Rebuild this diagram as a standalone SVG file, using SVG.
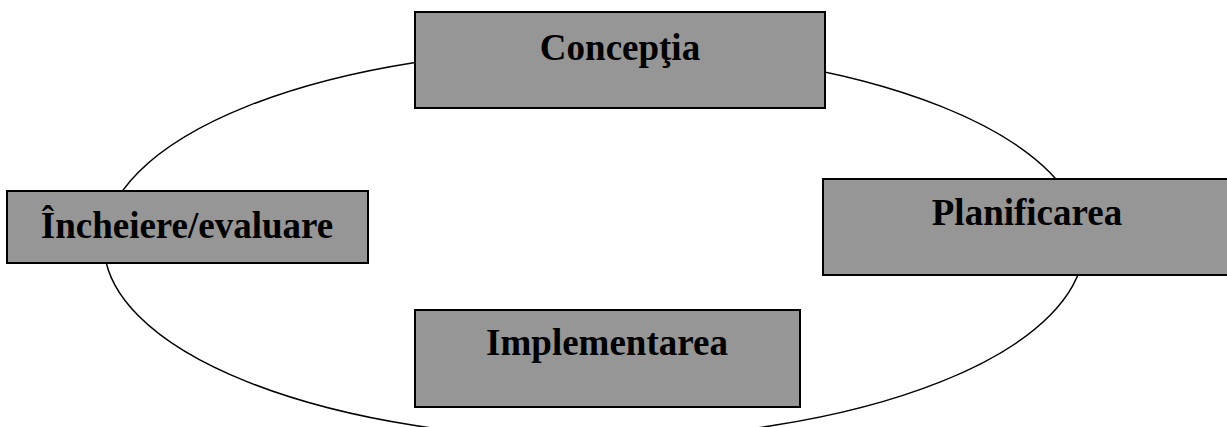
<svg xmlns="http://www.w3.org/2000/svg" width="1227" height="427" viewBox="0 0 1227 427">
<style>
.box{fill:#969696;stroke:#000;stroke-width:2}
.lbl{font-family:"Liberation Serif","Times New Roman",serif;font-weight:bold;font-size:37px;fill:#000;text-anchor:middle}
.conn{fill:none;stroke:#000;stroke-width:1.5}
</style>
<rect width="1227" height="427" fill="#fff"/>
<g id="connectors">
<ellipse class="conn" cx="594" cy="244" rx="490" ry="195"/>
</g>
<g id="conceptia">
<rect class="box" x="415" y="12" width="410" height="96"/>
<text class="lbl" x="620" y="60">Concepţia</text>
</g>
<g id="incheiere">
<rect class="box" x="7" y="191" width="361" height="72"/>
<text class="lbl" x="187" y="238">Încheiere/evaluare</text>
</g>
<g id="planificarea">
<rect class="box" x="823" y="179" width="410" height="96"/>
<text class="lbl" x="1027" y="225">Planificarea</text>
</g>
<g id="implementarea">
<rect class="box" x="415" y="310" width="385" height="97"/>
<text class="lbl" x="607" y="355">Implementarea</text>
</g>
</svg>
